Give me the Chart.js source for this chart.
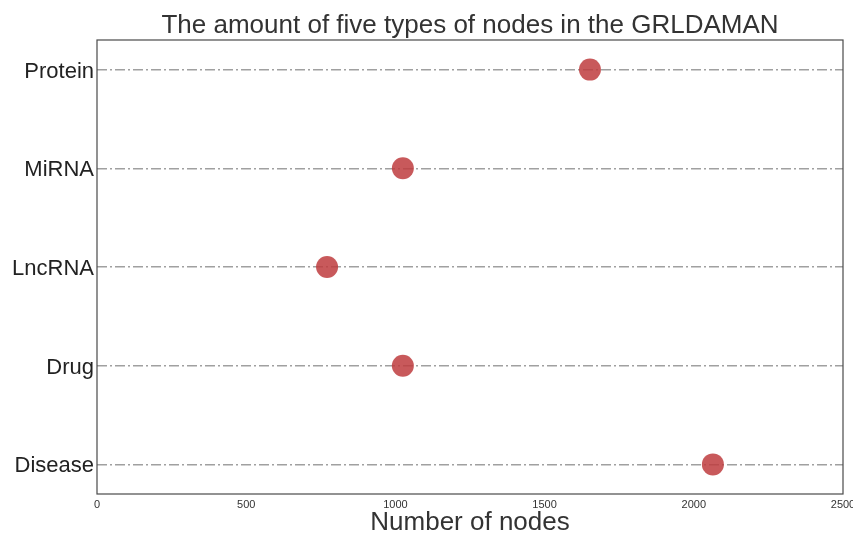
<!DOCTYPE html>
<html>
<head>
<meta charset="utf-8">
<script src="https://cdn.jsdelivr.net/npm/chart.js@4/dist/chart.umd.min.js"></script>
<style>
  html, body { margin: 0; padding: 0; background: #fff; overflow: hidden; }
  #wrap { width: 853px; height: 533px; overflow: hidden; }
</style>
</head>
<body>
<div id="wrap"><canvas id="myChart" width="880" height="533"></canvas></div>
<script>
// node types, bottom to top
var nodeTypes = ["Disease", "Drug", "LncRNA", "MiRNA", "Protein"];
var nodeCounts = [2064, 1025, 771, 1025, 1652];
var xTicks = [0, 500, 1000, 1500, 2000, 2500];

var points = nodeCounts.map(function (v, i) { return { x: v, y: i }; });

// frame round the plot area
var framePlugin = {
    id: "frame",
    afterDraw: function (chart) {
        var a = chart.chartArea, ctx = chart.ctx;
        ctx.save();
        ctx.strokeStyle = "#4a4a4a";
        ctx.lineWidth = 1.2;
        ctx.strokeRect(a.left, a.top, a.right - a.left, a.bottom - a.top);
        ctx.restore();
    }
};

new Chart("myChart", {
    type: "scatter",
    data: {
        datasets: [{
            data: points,
            backgroundColor: "rgba(190, 60, 62, 0.85)",
            borderWidth: 0,
            pointRadius: 11,
            pointHoverRadius: 11
        }]
    },
    options: {
        responsive: false,
        animation: false,
        layout: { padding: { left: 0, right: 37, top: 0, bottom: 0 } },
        plugins: {
            legend: { display: false },
            tooltip: { enabled: false },
            title: {
                display: true,
                text: "The amount of five types of nodes in the GRLDAMAN",
                fullSize: false,
                color: "#333",
                font: { family: "Liberation Sans", size: 26, weight: "normal", lineHeight: 1 },
                padding: { top: 13, bottom: 1 }
            }
        },
        scales: {
            x: {
                type: "linear",
                min: 0,
                max: 2500,
                afterBuildTicks: function (s) { s.ticks = xTicks.map(function (v) { return { value: v }; }); },
                afterFit: function (s) { s.height = 39; },
                grid: { display: false, drawTicks: false },
                border: { display: false },
                ticks: {
                    color: "#333",
                    padding: 4,
                    font: { family: "Liberation Sans", size: 11 },
                    callback: function (v) { return String(v); }
                },
                title: {
                    display: true,
                    text: "Number of nodes",
                    color: "#333",
                    padding: 0,
                    font: { family: "Liberation Sans", size: 26, lineHeight: 0.75 }
                }
            },
            y: {
                type: "linear",
                min: -0.3,
                max: 4.3,
                afterBuildTicks: function (s) { s.ticks = nodeTypes.map(function (n, i) { return { value: i }; }); },
                afterFit: function (s) { s.width = 97; },
                grid: { color: "#a0a0a0", lineWidth: 1.5, drawTicks: false },
                border: { display: false, dash: [10, 3, 2, 3] },
                ticks: {
                    color: "#222",
                    padding: 3,
                    labelOffset: 2,
                    font: { family: "Liberation Sans", size: 22 },
                    callback: function (v) { return nodeTypes[v]; }
                }
            }
        }
    },
    plugins: [framePlugin]
});
</script>
</body>
</html>
